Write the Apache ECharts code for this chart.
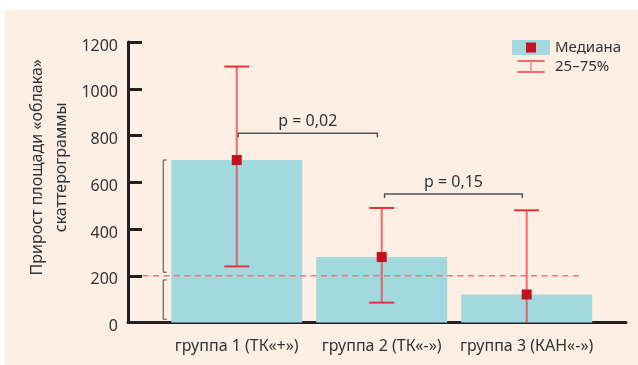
<!DOCTYPE html>
<html>
<head>
<meta charset="utf-8">
<script src="https://cdn.jsdelivr.net/npm/echarts@6/dist/echarts.min.js"></script>
<style>
  html, body { margin: 0; padding: 0; background: #fff; }
  #chart { width: 638px; height: 365px; }
</style>
</head>
<body>
<div id="chart"></div>
<script>
  // группы и значения
  const categories = ['группа 1 (ТК«+»)', 'группа 2 (ТК«-»)', 'группа 3 (КАН«-»)']
  const medians = [695, 280, 120]
  const q25 = [240, 85, 0]
  const q75 = [1095, 490, 480]
  const yTicks = [0, 200, 400, 600, 800, 1000, 1200]
  // p-скобки: [x от, x до, уровень, подпись]
  const pBrackets = [
    [1.01, 1.97, 810, 'p = 0,02'],
    [2.02, 2.97, 550, 'p = 0,15']
  ]
  // скобки слева: [x, верх, низ]
  const sideBrackets = [
    [0.493, 695, 215],
    [0.493, 182, 14]
  ]
  const refLine = [0.35, 3.39, 200]

  const FONT = '"Noto Sans", sans-serif'
  const TXT = '#333'

  const medianIcon = 'image://data:image/svg+xml;utf8,' + encodeURIComponent(
    "<svg xmlns='http://www.w3.org/2000/svg' width='38' height='15'>" +
    "<rect width='38' height='15' fill='#A3D9DE'/>" +
    "<rect x='14' y='2.5' width='10' height='10' fill='#C1121F'/></svg>")
  const iqrIcon = 'image://data:image/svg+xml;utf8,' + encodeURIComponent(
    "<svg xmlns='http://www.w3.org/2000/svg' width='38' height='15'>" +
    "<g stroke='#EE3B42' stroke-width='1.5' fill='none'>" +
    "<line x1='5.5' y1='2' x2='32.5' y2='2'/><line x1='5.5' y1='13' x2='32.5' y2='13'/>" +
    "<line x1='19' y1='2' x2='19' y2='13' stroke='#F38A8C'/></g></svg>")

  let myChart = echarts.init(document.getElementById('chart'))

  let option = {
    animation: false,
    textStyle: { fontFamily: FONT },
    graphic: [{
      type: 'rect',
      z: -10,
      shape: { x: 5, y: 10, width: 633, height: 355 },
      style: { fill: '#FDEFE3' }
    }],
    legend: {
      orient: 'vertical',
      left: 507,
      top: 35,
      itemWidth: 38,
      itemHeight: 15,
      itemGap: 4,
      textStyle: { color: TXT, fontSize: 15, fontFamily: FONT },
      data: [
        { name: 'Медиана', icon: medianIcon },
        { name: '25–75%', icon: iqrIcon }
      ],
      selectedMode: false
    },
    grid: { left: 128, right: 12, top: 42, bottom: 42.5 },
    xAxis: {
      type: 'value',
      min: 0.25,
      max: 3.685,
      splitLine: { show: false },
      axisTick: { show: false },
      axisLine: { show: true, lineStyle: { color: '#231F20', width: 3 } },
      axisLabel: {
        customValues: [1, 2, 3],
        formatter: v => categories[Math.round(v) - 1],
        color: TXT,
        fontSize: 16,
        margin: 16
      }
    },
    yAxis: {
      type: 'value',
      min: 0,
      max: 1200,
      interval: 200,
      name: 'Прирост площади «облака»\nскаттерограммы',
      nameLocation: 'middle',
      nameGap: 55,
      nameMoveOverlap: false,
      nameTextStyle: { color: TXT, fontSize: 16, lineHeight: 24, align: 'center', padding: [0, 0, 0, 30] },
      splitLine: { show: false },
      axisLine: { show: true, lineStyle: { color: '#231F20', width: 3 } },
      axisTick: { show: true, inside: true, length: 14, lineStyle: { color: '#231F20', width: 3 } },
      axisLabel: {
        color: TXT,
        fontSize: 16,
        margin: 10,
        verticalAlign: 'top',
        lineHeight: 8,
        formatter: v => yTicks.indexOf(v) >= 0 ? String(v) : ''
      }
    },
    series: [
      {
        name: 'Медиана',
        type: 'bar',
        barWidth: 131,
        z: 1,
        itemStyle: { color: '#A3D9DE' },
        data: medians.map((v, i) => [i + 1, v])
      },
      {
        // пунктир на уровне 200
        type: 'custom',
        z: 3,
        silent: true,
        data: [refLine],
        renderItem(params, api) {
          let a = api.coord([api.value(0), api.value(2)])
          let b = api.coord([api.value(1), api.value(2)])
          return {
            type: 'line',
            shape: { x1: a[0], y1: a[1], x2: b[0], y2: b[1] },
            style: { stroke: '#E9797B', lineWidth: 1.5, lineDash: [6, 4.5] }
          }
        }
      },
      {
        name: '25–75%',
        type: 'custom',
        z: 4,
        data: categories.map((c, i) => [i + 1, q25[i], q75[i]]),
        renderItem(params, api) {
          let lo = api.coord([api.value(0), api.value(1)])
          let hi = api.coord([api.value(0), api.value(2)])
          let w = 12.5
          let children = [
            { type: 'line', shape: { x1: lo[0], y1: lo[1], x2: hi[0], y2: hi[1] },
              style: { stroke: 'rgba(236,50,55,0.7)', lineWidth: 2 } },
            { type: 'line', shape: { x1: hi[0] - w, y1: hi[1], x2: hi[0] + w, y2: hi[1] },
              style: { stroke: '#EE2E35', lineWidth: 2 } }
          ]
          if (api.value(1) > 0) {
            children.push({ type: 'line', shape: { x1: lo[0] - w, y1: lo[1], x2: lo[0] + w, y2: lo[1] },
              style: { stroke: '#EE2E35', lineWidth: 2 } })
          }
          return { type: 'group', children: children }
        }
      },
      {
        name: 'Медиана',
        type: 'scatter',
        z: 5,
        symbol: 'rect',
        symbolSize: 10,
        itemStyle: { color: '#C1121F', opacity: 1 },
        data: medians.map((v, i) => [i + 1, v])
      },
      {
        // p-скобки
        type: 'custom',
        z: 4,
        silent: true,
        data: pBrackets,
        renderItem(params, api) {
          let a = api.coord([api.value(0), api.value(2)])
          let b = api.coord([api.value(1), api.value(2)])
          return {
            type: 'group',
            children: [
              { type: 'polyline', shape: { points: [[a[0], a[1] + 4], a, b, [b[0], b[1] + 4]] },
                style: { stroke: '#555', lineWidth: 1.5, fill: null } },
              { type: 'text', x: (a[0] + b[0]) / 2, y: a[1] - 4,
                style: { text: pBrackets[params.dataIndex][3], fill: TXT, font: '16px ' + FONT,
                  align: 'center', verticalAlign: 'bottom' } }
            ]
          }
        }
      },
      {
        // скобки слева
        type: 'custom',
        z: 4,
        silent: true,
        data: sideBrackets,
        renderItem(params, api) {
          let t = api.coord([api.value(0), api.value(1)])
          let b = api.coord([api.value(0), api.value(2)])
          return {
            type: 'polyline',
            shape: { points: [[t[0] + 3.5, t[1]], t, b, [b[0] + 3.5, b[1]]] },
            style: { stroke: '#444', lineWidth: 1, fill: null }
          }
        }
      }
    ]
  }

  myChart.setOption(option)
  window.addEventListener('resize', function() {
    myChart.resize()
  })
</script>
</body>
</html>
